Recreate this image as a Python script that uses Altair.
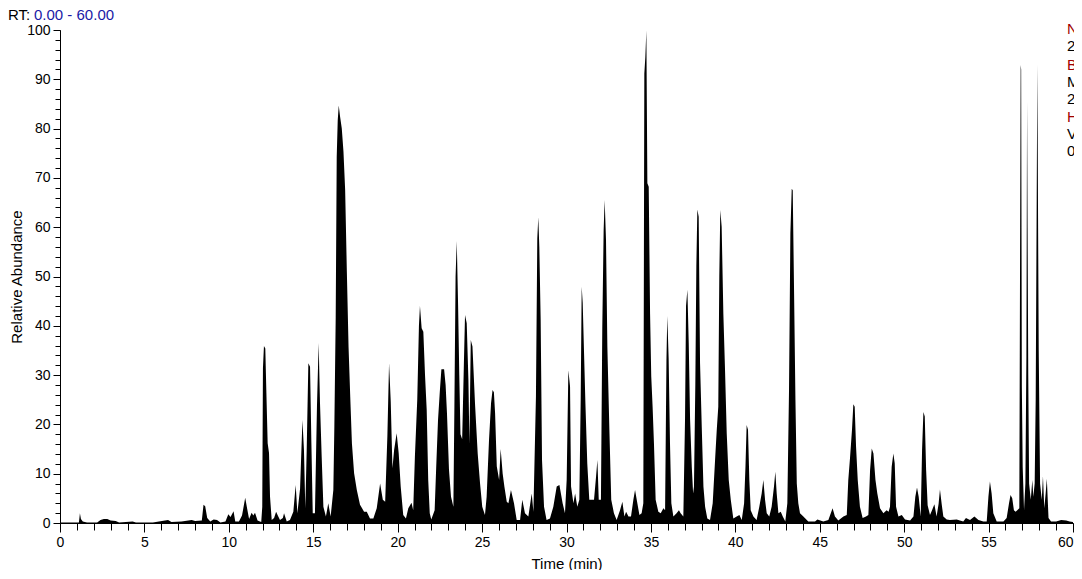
import altair as alt
import pandas as pd

# Retention time (min) and relative abundance (%)
rt_min = [
    0.0, 0.5, 1.0, 1.12, 1.18, 1.24, 1.35, 1.6, 2.2, 2.4, 2.6, 2.8, 3.0, 3.3, 3.5, 4.3, 4.5, 5.5,
    6.4, 6.6, 7.2, 7.8, 8.0, 8.4, 8.5, 8.6, 8.72, 8.9, 9.1, 9.3, 9.5, 9.8, 9.97, 10.1, 10.28,
    10.38, 10.6, 10.78, 10.97, 11.08, 11.2, 11.35, 11.45, 11.55, 11.7, 11.92, 11.98, 12.02,
    12.08, 12.16, 12.22, 12.30, 12.38, 12.44, 12.54, 12.68, 12.8, 12.9, 13.03, 13.2, 13.27,
    13.43, 13.62, 13.82, 13.96, 14.06, 14.22, 14.36, 14.45, 14.53, 14.61, 14.71, 14.81, 14.89,
    14.97, 15.1, 15.22, 15.32, 15.40, 15.50, 15.60, 15.75, 15.89, 16.03, 16.19, 16.25, 16.33,
    16.39, 16.45, 16.51, 16.59, 16.69, 16.79, 16.89, 16.99, 17.09, 17.19, 17.29, 17.42, 17.58,
    17.77, 18.01, 18.17, 18.36, 18.56, 18.76, 18.96, 19.12, 19.26, 19.39, 19.49, 19.59, 19.69,
    19.79, 19.94, 20.06, 20.18, 20.33, 20.49, 20.63, 20.82, 20.92, 21.02, 21.16, 21.26, 21.32,
    21.42, 21.52, 21.62, 21.72, 21.81, 21.90, 21.99, 22.19, 22.29, 22.39, 22.49, 22.59, 22.75,
    22.84, 22.92, 23.04, 23.16, 23.30, 23.36, 23.43, 23.50, 23.58, 23.65, 23.72, 23.82, 23.92,
    23.99, 24.09, 24.19, 24.25, 24.33, 24.43, 24.58, 24.74, 24.88, 25.01, 25.17, 25.27, 25.41,
    25.53, 25.62, 25.70, 25.77, 25.87, 26.01, 26.10, 26.22, 26.32, 26.46, 26.56, 26.71, 26.89,
    27.05, 27.25, 27.38, 27.54, 27.74, 27.94, 28.04, 28.19, 28.27, 28.33, 28.39, 28.47, 28.55,
    28.67, 28.82, 29.02, 29.22, 29.42, 29.58, 29.77, 29.91, 30.01, 30.11, 30.21, 30.27, 30.41,
    30.51, 30.64, 30.76, 30.84, 30.90, 30.96, 31.04, 31.12, 31.23, 31.35, 31.49, 31.63, 31.75,
    31.83, 31.91, 32.04, 32.12, 32.20, 32.26, 32.34, 32.42, 32.54, 32.65, 32.81, 32.97, 33.17,
    33.31, 33.43, 33.53, 33.67, 33.82, 33.96, 34.06, 34.16, 34.32, 34.45, 34.55, 34.61, 34.67,
    34.73, 34.79, 34.87, 34.95, 35.02, 35.10, 35.18, 35.28, 35.44, 35.58, 35.74, 35.84, 35.92,
    35.97, 36.05, 36.13, 36.21, 36.33, 36.52, 36.66, 36.76, 36.92, 37.02, 37.08, 37.16, 37.24,
    37.32, 37.42, 37.50, 37.55, 37.63, 37.69, 37.75, 37.83, 37.91, 38.01, 38.11, 38.21, 38.34,
    38.50, 38.66, 38.80, 38.90, 38.99, 39.05, 39.11, 39.19, 39.29, 39.39, 39.49, 39.61, 39.73,
    39.88, 40.08, 40.24, 40.38, 40.52, 40.60, 40.67, 40.75, 40.83, 40.91, 41.07, 41.26, 41.42,
    41.56, 41.66, 41.76, 41.86, 42.01, 42.15, 42.29, 42.37, 42.45, 42.55, 42.69, 42.81, 42.96,
    43.08, 43.18, 43.26, 43.34, 43.40, 43.48, 43.56, 43.64, 43.73, 43.83, 44.03, 44.32, 44.72,
    44.86, 45.21, 45.51, 45.76, 45.90, 46.10, 46.40, 46.60, 46.69, 46.79, 46.91, 46.99, 47.07,
    47.15, 47.25, 47.38, 47.54, 47.74, 47.88, 47.98, 48.08, 48.18, 48.30, 48.41, 48.57, 48.77,
    48.96, 49.08, 49.16, 49.26, 49.36, 49.44, 49.52, 49.66, 49.86, 50.05, 50.35, 50.55, 50.66,
    50.76, 50.86, 50.98, 51.06, 51.14, 51.22, 51.30, 51.39, 51.53, 51.65, 51.79, 51.92, 52.04,
    52.12, 52.22, 52.32, 52.52, 52.71, 53.11, 53.50, 53.66, 53.90, 54.16, 54.40, 54.69, 54.89,
    54.99, 55.08, 55.18, 55.28, 55.48, 55.88, 56.07, 56.21, 56.30, 56.40, 56.50, 56.60, 56.70,
    56.82, 56.87, 56.90, 56.93, 56.97, 57.02, 57.10, 57.18, 57.24, 57.28, 57.31, 57.35, 57.40,
    57.50, 57.59, 57.65, 57.73, 57.79, 57.85, 57.89, 57.93, 57.97, 58.05, 58.15, 58.22, 58.30,
    58.38, 58.45, 58.55, 58.7, 59.0, 59.3, 59.6, 59.8, 60.0,
]

rel_abundance = [
    0.1, 0.1, 0.1, 0.1, 2.0, 0.8, 0.3, 0.1, 0.1, 0.6, 0.8, 0.8, 0.5, 0.4, 0.1, 0.3, 0.1, 0.1,
    0.6, 0.2, 0.3, 0.6, 0.4, 0.5, 3.7, 3.4, 1.0, 0.3, 0.7, 0.6, 0.1, 0.3, 1.8, 1.2, 2.4,
    0.3, 0.3, 1.5, 5.1, 3.0, 0.8, 2.1, 1.5, 2.1, 0.5, 0.2, 3.3, 31.4,
    35.9, 35.4, 27.0, 16.2, 14.2, 5.3, 0.6, 1.0, 2.3, 1.5, 0.6, 1.0, 2.0,
    0.3, 0.6, 2.3, 7.7, 2.0, 7.0, 20.9, 14.8, 3.0, 14.5, 32.4, 31.7, 16.2,
    2.0, 2.0, 23.6, 36.5, 24.3, 13.4, 3.3, 1.3, 4.0, 1.3, 6.7, 19.5, 41.8,
    74.3, 81.7, 84.7, 82.4, 80.0, 75.3, 67.5, 51.0, 35.8, 25.7, 16.2, 10.1, 6.7,
    3.7, 2.3, 2.3, 0.9, 0.9, 3.0, 8.0, 4.7, 4.3, 17.6, 32.4, 24.6, 11.1,
    14.8, 18.2, 14.2, 7.4, 1.6, 0.9, 3.0, 4.1, 2.6, 13.4, 25.0, 40.0, 44.0,
    39.5, 38.8, 30.0, 22.9, 8.7, 2.0, 0.7, 2.6, 12.0, 20.9, 26.3, 31.2, 31.2,
    28.0, 22.3, 10.8, 5.3, 3.3, 23.6, 50.0, 57.2, 44.0, 30.0, 18.0, 17.0, 32.0,
    42.2, 40.5, 29.0, 16.0, 37.1, 35.8, 24.3, 14.1, 8.0, 3.3, 1.6, 5.3, 16.8,
    24.3, 27.0, 26.5, 22.3, 11.5, 8.7, 15.0, 10.0, 7.4, 4.3, 4.0, 6.7, 4.0,
    0.6, 0.6, 4.7, 2.0, 1.3, 6.0, 2.3, 25.6, 57.7, 62.0, 56.0, 41.2, 12.8,
    3.3, 0.6, 0.9, 3.3, 7.4, 7.7, 4.0, 2.0, 8.7, 31.0, 27.7, 7.4, 4.0,
    6.0, 3.3, 4.7, 24.9, 47.9, 44.6, 34.4, 24.3, 12.1, 4.7, 4.7, 4.7, 9.4,
    12.8, 4.7, 4.7, 39.8, 59.4, 65.5, 57.4, 35.8, 18.9, 4.7, 2.0, 0.6, 2.6,
    4.3, 1.3, 2.3, 1.3, 1.3, 4.7, 6.7, 4.7, 1.6, 2.0, 4.0, 91.2, 94.5,
    99.9, 68.9, 68.2, 42.5, 29.7, 23.6, 16.2, 4.7, 2.3, 2.0, 3.0, 2.6, 33.0,
    42.0, 33.4, 16.2, 4.0, 1.3, 2.0, 2.6, 2.0, 1.3, 21.0, 44.0, 47.3, 36.5,
    21.0, 11.4, 6.0, 7.4, 28.0, 52.0, 63.6, 62.1, 32.4, 19.6, 7.4, 3.3, 0.9,
    0.6, 4.0, 12.8, 18.9, 23.6, 50.0, 63.5, 60.1, 42.5, 31.0, 18.2, 8.7, 4.7,
    0.9, 1.3, 1.6, 0.6, 4.0, 11.4, 19.9, 18.9, 8.7, 2.6, 1.3, 0.6, 3.3,
    6.0, 8.7, 4.7, 2.0, 1.3, 3.3, 7.4, 10.4, 6.0, 2.0, 2.3, 1.3, 0.3,
    4.0, 27.0, 58.7, 67.8, 67.5, 46.6, 25.0, 8.0, 4.0, 2.0, 1.3, 0.3, 0.3,
    0.7, 0.3, 0.6, 3.0, 1.3, 0.5, 1.3, 1.6, 8.7, 13.1, 18.9, 24.1, 23.6,
    15.5, 8.7, 3.3, 1.0, 1.3, 1.6, 10.7, 15.1, 14.1, 8.7, 6.0, 3.0, 2.0,
    2.6, 2.3, 3.3, 11.4, 14.1, 12.1, 3.3, 1.3, 1.6, 0.7, 0.5, 1.3, 5.3,
    7.2, 5.3, 1.3, 14.8, 22.5, 21.6, 10.8, 3.6, 1.6, 2.6, 3.8, 1.3, 3.9,
    6.8, 3.9, 1.3, 0.7, 0.6, 0.7, 0.3, 1.0, 0.6, 1.3, 0.6, 0.3, 0.3,
    5.3, 8.4, 6.0, 2.0, 0.3, 0.3, 1.0, 4.0, 5.7, 5.0, 2.6, 2.3, 2.6,
    3.0, 60.0, 92.9, 92.0, 27.7, 11.4, 2.6, 8.0, 33.7, 85.5, 60.0, 30.0, 8.0,
    4.7, 8.7, 5.3, 8.0, 25.0, 65.8, 93.0, 62.0, 35.0, 8.0, 4.7, 9.5, 3.0,
    6.0, 9.0, 1.0, 0.3, 0.3, 0.6, 0.5, 0.3, 0.2,
]

x_major = [0, 5, 10, 15, 20, 25, 30, 35, 40, 45, 50, 55, 60]
x_minor = list(range(0, 61))
y_major = [0, 10, 20, 30, 40, 50, 60, 70, 80, 90, 100]
y_minor = list(range(0, 101, 2))

side_text = ["NL:", "2.59E9", "Base Peak", " MS", "20190315", "HeLa", "Vial", "0"]
side_color = ["#A00000", "#000000", "#A00000", "#000000", "#000000", "#A00000", "#000000", "#000000"]
side_y = [3.5, 20.5, 39.5, 56.5, 73.5, 91.5, 108.5, 125.5]

FONT = "Liberation Sans"

df = pd.DataFrame({"rt": rt_min, "ab": rel_abundance})
side_df = pd.DataFrame({"t": side_text, "c": side_color, "py": side_y})

x_scale = alt.Scale(domain=[0, 60], nice=False, zero=False)
y_scale = alt.Scale(domain=[0, 100], nice=False, zero=True)

area = alt.Chart(df).mark_area(color="black", interpolate="linear", clip=True).encode(
    x=alt.X("rt:Q", scale=x_scale, axis=alt.Axis(
        values=x_major, orient="bottom", title="Time (min)", tickSize=9, labelPadding=3,
        titlePadding=7, grid=False, format="d",
        labelAlign=alt.condition("datum.value == 60", alt.value("right"), alt.value("center")))),
    y=alt.Y("ab:Q", scale=y_scale, axis=alt.Axis(
        values=y_major, orient="left", title="Relative Abundance", tickSize=7, labelPadding=3,
        titlePadding=2, grid=False, format="d")),
)

minor = alt.Chart(df).mark_area(opacity=0).encode(
    x=alt.X("rt:Q", scale=x_scale, axis=alt.Axis(
        values=x_minor, orient="bottom", title="", labels=False, tickSize=7, domain=False, grid=False)),
    y=alt.Y("ab:Q", scale=y_scale, axis=alt.Axis(
        values=y_minor, orient="left", title="", labels=False, tickSize=5, domain=False, grid=False)),
)

rt_label = alt.Chart(pd.DataFrame({"t": ["RT:"]})).mark_text(
    align="left", baseline="alphabetic", font=FONT, fontSize=15, color="black"
).encode(x=alt.value(-52), y=alt.value(-10), text="t:N")

rt_range = alt.Chart(pd.DataFrame({"t": ["0.00 - 60.00"]})).mark_text(
    align="left", baseline="alphabetic", font=FONT, fontSize=15, color="#1a1aa6"
).encode(x=alt.value(-26), y=alt.value(-10), text="t:N")

side = alt.Chart(side_df).mark_text(
    align="left", baseline="alphabetic", font=FONT, fontSize=15
).encode(
    x=alt.value(1007),
    y=alt.Y("py:Q", scale=None, axis=None),
    color=alt.Color("c:N", scale=None),
    text="t:N",
)

chart = alt.layer(area, minor, rt_label, rt_range, side).resolve_axis(
    x="independent", y="independent"
).resolve_scale(y="independent").properties(
    width=1013, height=493,
    autosize=alt.AutoSizeParams(type="none"),
    padding={"left": 52, "top": 22, "right": 1, "bottom": 47},
).configure_view(stroke=None).configure_axis(
    labelFont=FONT, titleFont=FONT, labelFontSize=14, titleFontSize=15,
    labelColor="black", titleColor="black", domainColor="black", tickColor="black",
    titleFontWeight="normal", labelOverlap=False,
)

chart.save("out.html", embed_options={"renderer": "svg", "actions": False})
